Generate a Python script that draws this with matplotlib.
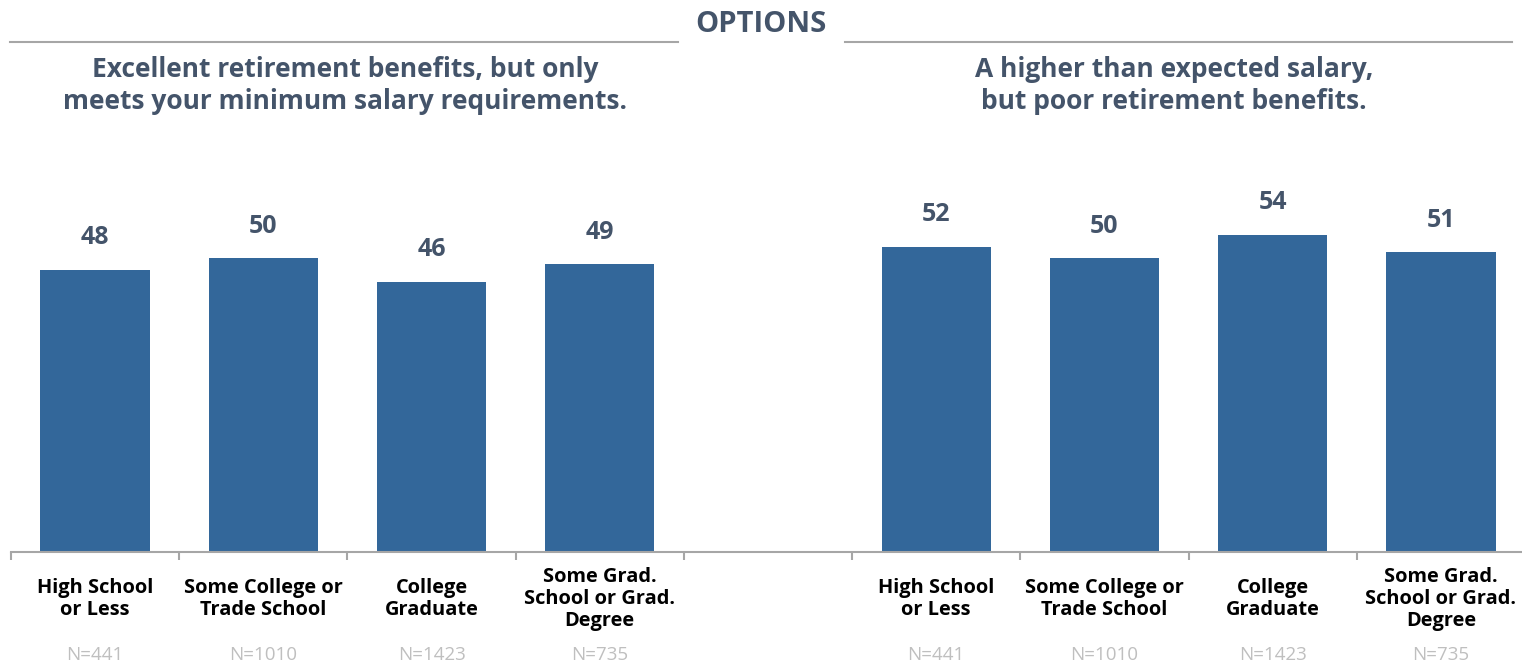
import matplotlib
matplotlib.use("Agg")
import matplotlib.pyplot as plt
from matplotlib.lines import Line2D

plt.rcParams['font.family'] = ['Open Sans', 'DejaVu Sans']

categories = ["High School\nor Less", "Some College or\nTrade School",
              "College\nGraduate", "Some Grad.\nSchool or Grad.\nDegree"]
sample_sizes = ["N=441", "N=1010", "N=1423", "N=735"]
retirement_values = [48, 50, 46, 49]
salary_values = [52, 50, 54, 51]
header = "OPTIONS"
subtitles = ["Excellent retirement benefits, but only\nmeets your minimum salary requirements.",
             "A higher than expected salary,\nbut poor retirement benefits."]

BAR = "#33679A"
DARK = "#44546A"
AXIS = "#A6A6A6"
NGRAY = "#BFBFBF"

W, H = 1522, 665
fig = plt.figure(figsize=(W / 100, H / 100), dpi=100)

# axes placed in pixel terms: baseline at y=552, runs past the right edge
left, right, base = 11, 1525, 552
ymax = 60
px_per_unit = 5.875
ax_h = ymax * px_per_unit
ax = fig.add_axes([left / W, 1 - base / H, (right - left) / W, ax_h / H])

left_x = [0, 1, 2, 3]
right_x = [5, 6, 7, 8]
ax.bar(left_x, retirement_values, width=0.65, color=BAR)
ax.bar(right_x, salary_values, width=0.65, color=BAR)
ax.set_xlim(-0.5, 8.5)
ax.set_ylim(0, ymax)

for s in ["top", "right", "left"]:
    ax.spines[s].set_visible(False)
ax.spines["bottom"].set_color(AXIS)
ax.spines["bottom"].set_linewidth(1.5)
ax.set_yticks([])
ax.set_xticks([x - 0.5 for x in range(9)])
ax.set_xticklabels([])
ax.tick_params(axis="x", length=6, width=1.5, color=AXIS, direction="out")

for xs, vals in [(left_x, retirement_values), (right_x, salary_values)]:
    for i, (x, v) in enumerate(zip(xs, vals)):
        ax.annotate(str(v), xy=(x, v), xytext=(0, 32), textcoords="offset pixels",
                    ha="center", va="center", fontsize=18, fontweight="bold", color=DARK)
        ax.annotate(categories[i], xy=(x, 0), xycoords=("data", "axes fraction"),
                    xytext=(0, -47), textcoords="offset pixels", ha="center", va="center",
                    fontsize=14.4, fontweight="bold", color="black", linespacing=1.15)
        ax.annotate(sample_sizes[i], xy=(x, 0), xycoords=("data", "axes fraction"),
                    xytext=(0, -103), textcoords="offset pixels", ha="center", va="center",
                    fontsize=13.5, color=NGRAY)

# header with rules on both sides
fig.text(761 / W, 1 - 24 / H, header, ha="center", va="center",
         fontsize=21, fontweight="bold", color=DARK)
fig.add_artist(Line2D([10 / W, 678 / W], [1 - 42 / H] * 2, color=AXIS, lw=1.5))
fig.add_artist(Line2D([845 / W, 1512 / W], [1 - 42 / H] * 2, color=AXIS, lw=1.5))

fig.text(345 / W, 1 - 85.5 / H, subtitles[0], ha="center", va="center",
         fontsize=19, fontweight="bold", color=DARK, linespacing=1.25)
fig.text(1174 / W, 1 - 85.5 / H, subtitles[1], ha="center", va="center",
         fontsize=19, fontweight="bold", color=DARK, linespacing=1.25)

fig.savefig("out.png", dpi=100)
